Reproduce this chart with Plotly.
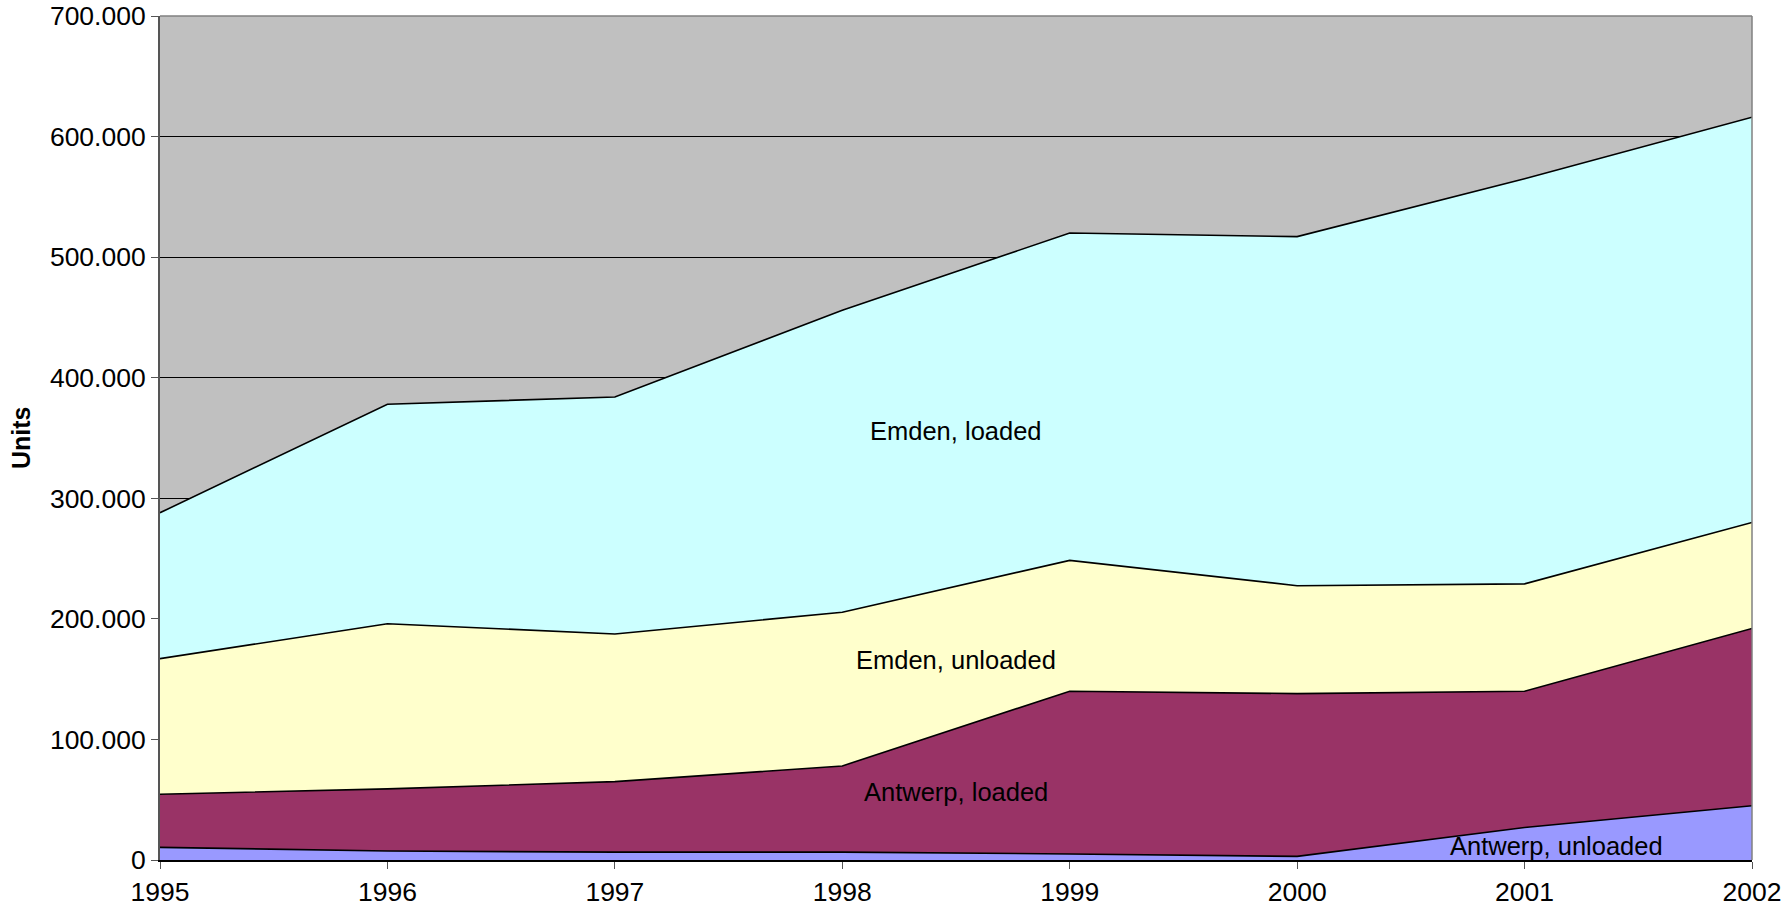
import plotly.graph_objects as go

years = [1995, 1996, 1997, 1998, 1999, 2000, 2001, 2002]
antwerp_unloaded = [10500, 7500, 6500, 6500, 5000, 3000, 27000, 45000]
antwerp_loaded = [44000, 51500, 58500, 71500, 135000, 135000, 113000, 147000]
emden_unloaded = [112500, 137000, 122500, 127500, 108500, 89500, 89000, 88000]
emden_loaded = [121000, 182000, 196500, 250500, 271500, 289500, 336000, 336000]

series = [
    ("Antwerp, unloaded", antwerp_unloaded, "#9999FF"),
    ("Antwerp, loaded", antwerp_loaded, "#993366"),
    ("Emden, unloaded", emden_unloaded, "#FFFFCC"),
    ("Emden, loaded", emden_loaded, "#CCFFFF"),
]

fig = go.Figure()
for name, vals, col in series:
    fig.add_trace(go.Scatter(
        x=years, y=vals, name=name, mode="lines",
        stackgroup="one", fillcolor=col,
        line=dict(color="black", width=1.6),
        hoverinfo="x+y+name",
    ))

FAM = "Liberation Sans, Arial, sans-serif"
tick_font = dict(family=FAM, size=26.5, color="black")
lab_font = dict(family=FAM, size=25.5, color="black")
labels = [
    ("Emden, loaded", 1998.5, 356000),
    ("Emden, unloaded", 1998.5, 166000),
    ("Antwerp, loaded", 1998.5, 56000),
    ("Antwerp, unloaded", 2001.14, 11500),
]
for txt, x, y in labels:
    fig.add_annotation(x=x, y=y, text=txt, showarrow=False, font=lab_font,
                       xref="x", yref="y")

L, R, T, B = 160, 34, 16, 50
PW = 1786 - L - R
fig.add_annotation(x=-(L - 21) / PW, y=0.5, xref="paper", yref="paper",
                   xanchor="center", yanchor="middle",
                   text="<b>Units</b>", textangle=-90, showarrow=False,
                   font=dict(family=FAM, size=25, color="black"))

fig.update_layout(
    width=1786, height=910,
    margin=dict(l=L, r=R, t=T, b=B),
    paper_bgcolor="white",
    plot_bgcolor="#C0C0C0",
    showlegend=False,
    separators=",.",
    font=tick_font,
    xaxis=dict(
        range=[1995, 2002], tickmode="array", tickvals=years,
        ticktext=[str(y) for y in years],
        showgrid=False, zeroline=False, automargin=False,
        showline=True, linecolor="black", linewidth=2,
        ticks="outside", ticklen=7, tickcolor="#555555", tickwidth=1,
        tickfont=tick_font,
    ),
    yaxis=dict(
        range=[0, 700000], dtick=100000, tickformat=",d",
        showgrid=True, gridcolor="black", gridwidth=1,
        zeroline=False, automargin=False,
        showline=True, linecolor="#555555", linewidth=2,
        ticks="outside", ticklen=7, tickcolor="#555555", tickwidth=1,
        tickfont=tick_font,
    ),
    shapes=[
        dict(type="line", xref="paper", yref="paper", x0=0, x1=1, y0=1, y1=1,
             line=dict(color="#808080", width=1.5)),
        dict(type="line", xref="paper", yref="paper", x0=1, x1=1, y0=0, y1=1,
             line=dict(color="#808080", width=1.5)),
    ],
)

fig.write_html(
    "out.html",
    config={"displayModeBar": False},
    post_script="document.body.style.margin='0';document.body.style.overflow='hidden';",
)
